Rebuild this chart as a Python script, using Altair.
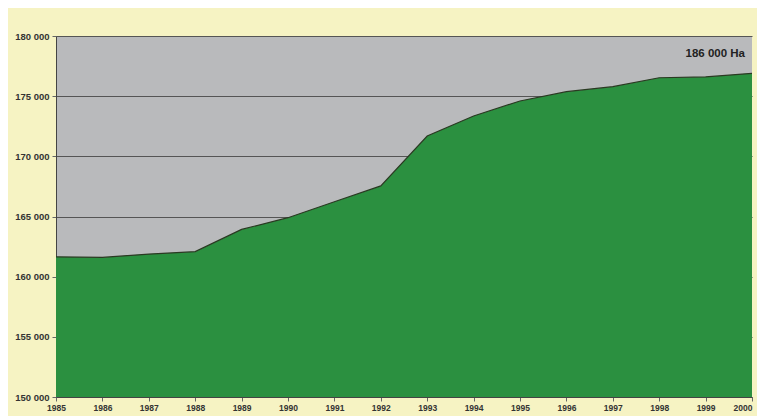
import altair as alt
import pandas as pd

years = list(range(1985, 2001))
surface = [161650, 161600, 161880, 162080, 163930, 164900, 166230, 167540,
           171690, 173350, 174600, 175370, 175790, 176530, 176600, 176900]
y_ticks = [150000, 155000, 160000, 165000, 170000, 175000, 180000]
annot_text = ["186 000 Ha"]
annot_x = [2000]
annot_y = [178500]

df = pd.DataFrame({"year": years, "surface": surface})
ann = pd.DataFrame({"year": annot_x, "surface": annot_y, "label": annot_text})

x = alt.X("year:Q", scale=alt.Scale(domain=[1985, 2000], nice=False, zero=False),
          axis=alt.Axis(values=years, format="d", title=None, grid=False,
                        labelFont="Liberation Sans", labelFontSize=8.5, labelFontWeight="bold",
                        labelColor="#333", labelFlush=False, labelPadding=2,
                        labelAlign={"condition": {"test": "datum.value == 2000", "value": "right"},
                                    "value": "center"},
                        tickSize=4, tickColor="#666", domainColor="#444", labelOverlap=False))
y = alt.Y("surface:Q", scale=alt.Scale(domain=[150000, 180000], nice=False, zero=False),
          axis=alt.Axis(values=y_ticks, title=None, grid=True, gridColor="#555", gridWidth=1.2,
                        labelExpr="replace(format(datum.value, ','), ',', ' ')",
                        labelFont="Liberation Sans", labelFontSize=9.5, labelFontWeight="bold",
                        labelColor="#333", labelPadding=3, tickSize=4, tickColor="#666",
                        domainColor="#444"))

area = alt.Chart(df).mark_area(color="#2b9040", line={"color": "#2a3a22", "strokeWidth": 1.2},
                               opacity=1, clip=True).encode(x=x, y=y)

text = alt.Chart(ann).mark_text(align="right", dx=-7, font="Liberation Sans", fontSize=11.5,
                                fontWeight="bold", color="#222").encode(
    x=alt.X("year:Q"), y=alt.Y("surface:Q"), text="label:N")

chart = (area + text).properties(
    width=696, height=361,
    background="#f6f3c3",
    padding={"left": 48, "top": 28, "right": 5, "bottom": 19},
    autosize=alt.AutoSizeParams(type="none"),
).configure_view(fill="#b9babc", stroke=None)

chart.save("out.html", embed_options={"renderer": "svg", "actions": False})
